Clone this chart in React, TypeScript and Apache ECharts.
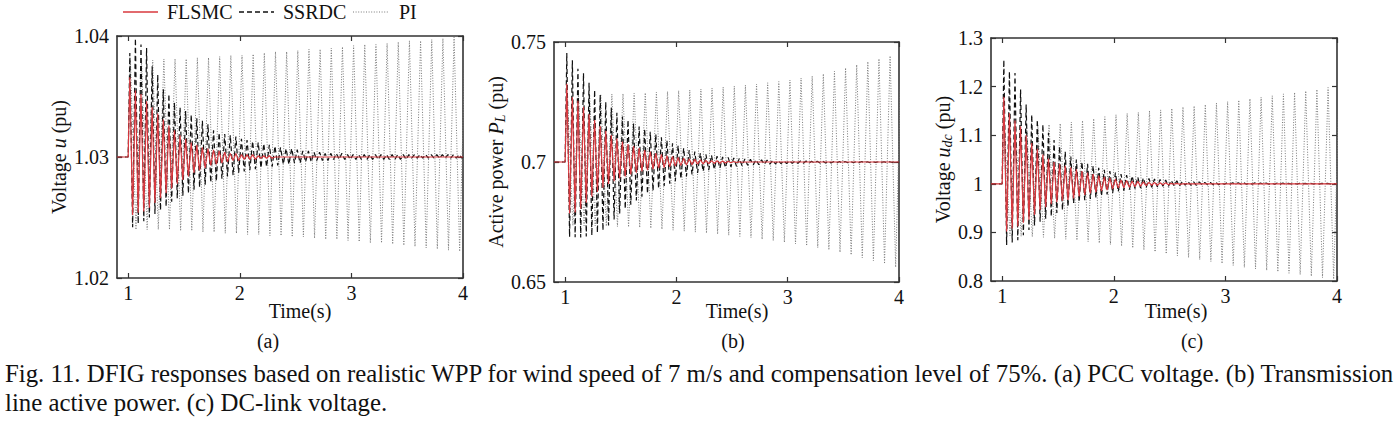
import React, { useEffect, useRef } from "react";
import * as echarts from "echarts";

// ---------- data (turning points of the oscillations) ----------
const X_MIN = 0.9;
const X_MAX = 4;
const EVENT_T = 1.0; // disturbance instant
const xTicks = [1, 2, 3, 4];
const legendNames = ["FLSMC", "SSRDC", "PI"];

// timing of extremes: FLSMC / SSRDC (fast mode), PI (slower mode)
const FAST_FIRST = 1.015;
const FAST_HALF = 0.025;
const PI_FIRST = 1.02;
const PI_HALF = 0.05;

// (a) PCC voltage (pu)
const baseA = 1.03;
const piA_hi = [1.0380, 1.0380, 1.0380, 1.0381, 1.0381, 1.0381, 1.0382, 1.0382, 1.0383, 1.0384, 1.0384, 1.0385, 1.0386, 1.0387, 1.0387, 1.0388, 1.0389, 1.0389, 1.0390, 1.0391, 1.0392, 1.0393, 1.0393, 1.0394, 1.0395, 1.0396, 1.0396, 1.0397, 1.0398, 1.0399, 1.0400];
const piA_lo = [1.0240, 1.0240, 1.0240, 1.0240, 1.0239, 1.0239, 1.0238, 1.0238, 1.0237, 1.0237, 1.0236, 1.0236, 1.0235, 1.0235, 1.0234, 1.0234, 1.0233, 1.0232, 1.0232, 1.0231, 1.0230, 1.0229, 1.0229, 1.0228, 1.0227, 1.0226, 1.0225, 1.0224, 1.0223, 1.0222];
const ssA_hi = [1.0386, 1.0398, 1.0393, 1.0390, 1.0375, 1.0368, 1.0356, 1.0352, 1.0345, 1.0341, 1.0338, 1.0335, 1.0332, 1.0330, 1.0327, 1.0322, 1.0320, 1.0319, 1.0318, 1.0317, 1.0315, 1.0314, 1.0313, 1.0312, 1.0311, 1.0310, 1.0309, 1.0308, 1.0307, 1.0307, 1.0306, 1.0305, 1.0305, 1.0304, 1.0304, 1.0303, 1.0303, 1.0303, 1.0303, 1.0302, 1.0302, 1.0302, 1.0302, 1.0302, 1.0302, 1.0302, 1.0302, 1.0302, 1.0302, 1.0302, 1.0302, 1.0302, 1.0302, 1.0302, 1.0302, 1.0302, 1.0302, 1.0302, 1.0302, 1.0302];
const ssA_lo = [1.0242, 1.0245, 1.0247, 1.0250, 1.0253, 1.0256, 1.0259, 1.0263, 1.0266, 1.0268, 1.0270, 1.0273, 1.0275, 1.0277, 1.0279, 1.0280, 1.0282, 1.0284, 1.0285, 1.0287, 1.0288, 1.0289, 1.0290, 1.0291, 1.0292, 1.0292, 1.0293, 1.0294, 1.0294, 1.0295, 1.0295, 1.0296, 1.0296, 1.0297, 1.0297, 1.0297, 1.0298, 1.0298, 1.0298, 1.0298, 1.0298, 1.0298, 1.0298, 1.0298, 1.0298, 1.0298, 1.0298, 1.0298, 1.0298, 1.0298, 1.0299, 1.0299, 1.0299, 1.0299, 1.0299, 1.0299, 1.0299, 1.0299, 1.0299, 1.0299];
const flA_hi = [1.0366, 1.0355, 1.0352, 1.0346, 1.0341, 1.0336, 1.0331, 1.0326, 1.0322, 1.0318, 1.0315, 1.0312, 1.0310, 1.0308, 1.0307, 1.0306, 1.0305, 1.0304, 1.0303, 1.0303, 1.0302, 1.0302, 1.0302, 1.0301, 1.0301, 1.0301];
const flA_lo = [1.0252, 1.0254, 1.0255, 1.0258, 1.0262, 1.0266, 1.0270, 1.0274, 1.0278, 1.0281, 1.0284, 1.0287, 1.0289, 1.0291, 1.0293, 1.0294, 1.0295, 1.0296, 1.0297, 1.0297, 1.0298, 1.0298, 1.0298, 1.0299, 1.0299, 1.0299];
const yTicksA = { min: 1.02, max: 1.04, interval: 0.01 };

// (b) transmission line active power (pu)
const baseB = 0.7;
const piB_hi = [0.7280, 0.7280, 0.7281, 0.7282, 0.7283, 0.7284, 0.7286, 0.7288, 0.7291, 0.7294, 0.7297, 0.7300, 0.7304, 0.7308, 0.7312, 0.7316, 0.7320, 0.7325, 0.7330, 0.7335, 0.7341, 0.7350, 0.7358, 0.7367, 0.7378, 0.7392, 0.7405, 0.7418, 0.7430, 0.7442, 0.7452];
const piB_lo = [0.6735, 0.6735, 0.6734, 0.6733, 0.6731, 0.6729, 0.6727, 0.6724, 0.6720, 0.6716, 0.6712, 0.6708, 0.6704, 0.6700, 0.6695, 0.6690, 0.6685, 0.6678, 0.6672, 0.6666, 0.6659, 0.6651, 0.6643, 0.6634, 0.6624, 0.6613, 0.6601, 0.6589, 0.6576, 0.6562];
const ssB_hi = [0.7454, 0.7424, 0.7389, 0.7370, 0.7330, 0.7300, 0.7280, 0.7250, 0.7225, 0.7205, 0.7190, 0.7175, 0.7160, 0.7148, 0.7137, 0.7126, 0.7115, 0.7103, 0.7090, 0.7078, 0.7068, 0.7058, 0.7050, 0.7043, 0.7037, 0.7032, 0.7028, 0.7024, 0.7021, 0.7019, 0.7017, 0.7015, 0.7013, 0.7011, 0.7010, 0.7009, 0.7008, 0.7007, 0.7006, 0.7005, 0.7005, 0.7004, 0.7004, 0.7004, 0.7003, 0.7003, 0.7003, 0.7003, 0.7002, 0.7002, 0.7002, 0.7002, 0.7002, 0.7002, 0.7001, 0.7001, 0.7001, 0.7001, 0.7001, 0.7001];
const ssB_lo = [0.6688, 0.6686, 0.6685, 0.6690, 0.6694, 0.6705, 0.6715, 0.6735, 0.6760, 0.6785, 0.6805, 0.6822, 0.6840, 0.6855, 0.6868, 0.6880, 0.6890, 0.6900, 0.6910, 0.6920, 0.6930, 0.6940, 0.6948, 0.6955, 0.6961, 0.6966, 0.6970, 0.6974, 0.6977, 0.6980, 0.6982, 0.6984, 0.6986, 0.6988, 0.6989, 0.6990, 0.6991, 0.6992, 0.6993, 0.6994, 0.6995, 0.6995, 0.6995, 0.6995, 0.6995, 0.6996, 0.6996, 0.6996, 0.6996, 0.6996, 0.6997, 0.6997, 0.6997, 0.6997, 0.6997, 0.6998, 0.6998, 0.6998, 0.6998, 0.6998];
const flB_hi = [0.7326, 0.7270, 0.7255, 0.7230, 0.7200, 0.7175, 0.7150, 0.7130, 0.7112, 0.7098, 0.7085, 0.7075, 0.7066, 0.7058, 0.7050, 0.7043, 0.7037, 0.7032, 0.7027, 0.7023, 0.7019, 0.7016, 0.7013, 0.7011, 0.7009, 0.7007, 0.7006, 0.7005, 0.7004, 0.7003, 0.7002, 0.7001];
const flB_lo = [0.6785, 0.6790, 0.6805, 0.6830, 0.6855, 0.6875, 0.6893, 0.6908, 0.6920, 0.6931, 0.6940, 0.6948, 0.6955, 0.6961, 0.6966, 0.6970, 0.6974, 0.6977, 0.6980, 0.6983, 0.6985, 0.6987, 0.6989, 0.6991, 0.6992, 0.6993, 0.6994, 0.6995, 0.6996, 0.6997, 0.6998, 0.6999];
const yTicksB = { min: 0.65, max: 0.75, interval: 0.05 };

// (c) DC-link voltage (pu)
const baseC = 1.0;
const piC_hi = [1.120, 1.120, 1.120, 1.121, 1.122, 1.124, 1.127, 1.130, 1.134, 1.138, 1.142, 1.145, 1.147, 1.150, 1.152, 1.155, 1.158, 1.160, 1.163, 1.166, 1.169, 1.172, 1.175, 1.178, 1.181, 1.185, 1.188, 1.191, 1.194, 1.198, 1.201];
const piC_lo = [0.893, 0.892, 0.891, 0.890, 0.888, 0.886, 0.884, 0.881, 0.878, 0.875, 0.872, 0.868, 0.864, 0.860, 0.856, 0.852, 0.848, 0.844, 0.840, 0.836, 0.832, 0.828, 0.825, 0.822, 0.819, 0.816, 0.813, 0.810, 0.807, 0.804];
const ssC_hi = [1.255, 1.231, 1.228, 1.194, 1.163, 1.142, 1.132, 1.122, 1.105, 1.090, 1.077, 1.066, 1.056, 1.050, 1.045, 1.041, 1.037, 1.033, 1.029, 1.026, 1.023, 1.020, 1.018, 1.016, 1.014, 1.012, 1.011, 1.010, 1.009, 1.008, 1.007, 1.006, 1.005, 1.005, 1.004, 1.004, 1.003, 1.003, 1.003, 1.002, 1.002, 1.002, 1.002, 1.002, 1.002, 1.002, 1.0015, 1.0015, 1.0015, 1.0015, 1.0015, 1.001, 1.001, 1.001, 1.001, 1.001, 1.001, 1.001, 1.001, 1.001];
const ssC_lo = [0.874, 0.879, 0.884, 0.894, 0.905, 0.914, 0.922, 0.928, 0.933, 0.940, 0.946, 0.953, 0.960, 0.963, 0.966, 0.969, 0.972, 0.975, 0.978, 0.981, 0.984, 0.986, 0.988, 0.990, 0.991, 0.992, 0.993, 0.994, 0.995, 0.995, 0.996, 0.996, 0.997, 0.997, 0.997, 0.998, 0.998, 0.998, 0.998, 0.999, 0.999, 0.999, 0.999, 0.999, 0.999, 0.999, 0.999, 0.999, 0.999, 0.999, 0.999, 0.9995, 0.9995, 0.9995, 0.9995, 0.9995, 0.9995, 0.9995, 0.9995, 0.9995];
const flC_hi = [1.179, 1.145, 1.130, 1.118, 1.100, 1.084, 1.072, 1.060, 1.052, 1.045, 1.041, 1.037, 1.034, 1.030, 1.026, 1.023, 1.020, 1.017, 1.014, 1.012, 1.010, 1.008, 1.007, 1.006, 1.005, 1.004, 1.003, 1.003, 1.002, 1.002, 1.001, 1.001];
const flC_lo = [0.902, 0.908, 0.912, 0.920, 0.926, 0.936, 0.946, 0.952, 0.958, 0.962, 0.965, 0.967, 0.970, 0.974, 0.977, 0.980, 0.983, 0.985, 0.987, 0.989, 0.991, 0.992, 0.993, 0.994, 0.995, 0.996, 0.997, 0.997, 0.998, 0.998, 0.999, 0.999];
const yTicksC = { min: 0.8, max: 1.3, interval: 0.1 };

// texts
const yNames = [
  "{n|Voltage }{i|u}{n| (pu)}",
  "{n|Active power }{i|P}{s|L}{n| (pu)}",
  "{n|Voltage }{i|u}{s|dc}{n| (pu)}",
];
const xName = "Time(s)";
const panelLabels = ["(a)", "(b)", "(c)"];
const captionLine1 =
  "Fig. 11. DFIG responses based on realistic WPP for wind speed of 7 m/s and compensation level of 75%. (a) PCC voltage. (b) Transmission";
const captionLine2 = "line active power. (c) DC-link voltage.";

// ---------- helpers ----------
function buildSeriesData(
  hi: number[],
  lo: number[],
  base: number,
  first: number,
  half: number,
  settles: boolean
) {
  const pts: number[][] = [
    [X_MIN, base],
    [EVENT_T, base],
  ];
  const n = Math.max(hi.length, lo.length);
  let lastT = EVENT_T;
  for (let j = 0; j < n; j++) {
    if (j < hi.length) {
      lastT = first + half * 2 * j;
      pts.push([lastT, hi[j]]);
    }
    if (j < lo.length) {
      lastT = first + half * (2 * j + 1);
      pts.push([lastT, lo[j]]);
    }
  }
  if (settles) {
    if (lastT + half < X_MAX) pts.push([lastT + half, base]);
    pts.push([X_MAX, base]);
  }
  return pts;
}

const FONT = "'Liberation Serif', 'Times New Roman', serif";
const TXT = "#111";
const AXIS_COLOR = "#333";
const RED = "#d8383e";
const BLACK = "#111";
const GREY = "#7a7a7a";
const PI_DASH = [1, 1.6];
const SS_DASH = [5, 3];

const grids = [
  { left: 117, top: 36, width: 346, height: 242 },
  { left: 554, top: 42, width: 345, height: 240 },
  { left: 991, top: 38, width: 346, height: 243 },
];
const nameGaps = [48, 40, 37];

export default function App() {
  const ref = useRef<HTMLDivElement>(null);

  useEffect(() => {
    if (!ref.current) return;
    const chart = echarts.init(ref.current, undefined, { renderer: "svg" });

    const panels = [
      { base: baseA, pi: [piA_hi, piA_lo], ss: [ssA_hi, ssA_lo], fl: [flA_hi, flA_lo], y: yTicksA },
      { base: baseB, pi: [piB_hi, piB_lo], ss: [ssB_hi, ssB_lo], fl: [flB_hi, flB_lo], y: yTicksB },
      { base: baseC, pi: [piC_hi, piC_lo], ss: [ssC_hi, ssC_lo], fl: [flC_hi, flC_lo], y: yTicksC },
    ];

    const xAxis: any[] = [];
    const yAxis: any[] = [];
    const series: any[] = [];
    const rich = {
      n: { fontFamily: FONT, fontSize: 20, color: TXT },
      i: { fontFamily: FONT, fontSize: 20, color: TXT, fontStyle: "italic" },
      s: { fontFamily: FONT, fontSize: 14, color: TXT, fontStyle: "italic", verticalAlign: "bottom", padding: [8, 0, 0, 0] },
    };

    panels.forEach((p, k) => {
      const tickInside = { show: true, inside: true, length: 5, lineStyle: { color: AXIS_COLOR, width: 1.2 } };
      const frameLine = { show: true, onZero: false, lineStyle: { color: AXIS_COLOR, width: 1.6 } };
      xAxis.push({
        type: "value",
        gridIndex: k,
        min: X_MIN,
        max: X_MAX,
        position: "bottom",
        axisLine: frameLine,
        axisTick: { ...tickInside, customValues: xTicks },
        axisLabel: { customValues: xTicks, fontFamily: FONT, fontSize: 20, color: TXT, margin: 5 },
        splitLine: { show: false },
      });
      xAxis.push({
        type: "value",
        gridIndex: k,
        min: X_MIN,
        max: X_MAX,
        position: "top",
        axisLine: frameLine,
        axisTick: { ...tickInside, customValues: xTicks },
        axisLabel: { show: false },
        splitLine: { show: false },
      });
      yAxis.push({
        type: "value",
        gridIndex: k,
        min: p.y.min,
        max: p.y.max,
        interval: p.y.interval,
        position: "left",
        name: yNames[k],
        nameLocation: "middle",
        nameRotate: 90,
        nameGap: nameGaps[k],
        nameTextStyle: { rich },
        axisLine: frameLine,
        axisTick: tickInside,
        axisLabel: {
          fontFamily: FONT,
          fontSize: 20,
          color: TXT,
          margin: 8,
          formatter: (v: number) => String(+v.toFixed(2)),
        },
        splitLine: { show: false },
      });
      yAxis.push({
        type: "value",
        gridIndex: k,
        min: p.y.min,
        max: p.y.max,
        interval: p.y.interval,
        position: "right",
        axisLine: frameLine,
        axisTick: tickInside,
        axisLabel: { show: false },
        splitLine: { show: false },
      });

      const xi = 2 * k;
      const yi = 2 * k;
      series.push({
        type: "line",
        name: "PI",
        xAxisIndex: xi,
        yAxisIndex: yi,
        data: buildSeriesData(p.pi[0], p.pi[1], p.base, PI_FIRST, PI_HALF, false),
        showSymbol: false,
        symbol: "none",
        color: GREY,
        lineStyle: { color: GREY, width: 1, type: PI_DASH },
        z: 1,
        silent: true,
      });
      series.push({
        type: "line",
        name: "SSRDC",
        xAxisIndex: xi,
        yAxisIndex: yi,
        data: buildSeriesData(p.ss[0], p.ss[1], p.base, FAST_FIRST, FAST_HALF, true),
        showSymbol: false,
        symbol: "none",
        color: BLACK,
        lineStyle: { color: BLACK, width: 1.2, type: SS_DASH },
        z: 2,
        silent: true,
      });
      series.push({
        type: "line",
        name: "FLSMC",
        xAxisIndex: xi,
        yAxisIndex: yi,
        data: buildSeriesData(p.fl[0], p.fl[1], p.base, FAST_FIRST, FAST_HALF, true),
        showSymbol: false,
        symbol: "none",
        color: RED,
        lineStyle: { color: RED, width: 1.2 },
        z: 3,
        silent: true,
      });
    });

    const graphic: any[] = [];
    // legend (drawn manually so that the icons are plain line samples)
    const legendItems = [
      { name: legendNames[0], x: 123, stroke: RED, dash: null as any, w: 1.3 },
      { name: legendNames[1], x: 239, stroke: BLACK, dash: SS_DASH, w: 1.3 },
      { name: legendNames[2], x: 353, stroke: GREY, dash: PI_DASH, w: 1 },
    ];
    legendItems.forEach((it) => {
      graphic.push({
        type: "line",
        shape: { x1: it.x, y1: 12, x2: it.x + 35, y2: 12 },
        style: { stroke: it.stroke, lineWidth: it.w, lineDash: it.dash || undefined },
        silent: true,
      });
      graphic.push({
        type: "text",
        x: it.x + (it.name === "PI" ? 46 : 44),
        y: 12,
        style: { text: it.name, fontFamily: FONT, fontSize: 20, fill: TXT, align: "left", verticalAlign: "middle" },
      });
    });

    const xNamePos = [300, 737, 1176];
    const panelLabelPos = [268, 733, 1192];
    xNamePos.forEach((x) =>
      graphic.push({
        type: "text",
        x,
        y: 311,
        style: { text: xName, fontFamily: FONT, fontSize: 20, fill: TXT, align: "center", verticalAlign: "middle" },
      })
    );
    panelLabelPos.forEach((x, i) =>
      graphic.push({
        type: "text",
        x,
        y: 341,
        style: { text: panelLabels[i], fontFamily: FONT, fontSize: 20, fill: TXT, align: "center", verticalAlign: "middle" },
      })
    );
    graphic.push({
      type: "text",
      x: 5,
      y: 373,
      style: { text: captionLine1, fontFamily: FONT, fontSize: 24.8, fill: TXT, align: "left", verticalAlign: "middle" },
    });
    graphic.push({
      type: "text",
      x: 5,
      y: 402,
      style: { text: captionLine2, fontFamily: FONT, fontSize: 24.8, fill: TXT, align: "left", verticalAlign: "middle" },
    });

    chart.setOption({
      animation: false,
      backgroundColor: "#fff",
      grid: grids.map((g) => ({ ...g, containLabel: false })),
      xAxis,
      yAxis,
      series,
      graphic,
    });

    return () => chart.dispose();
  }, []);

  return (
    <div
      ref={ref}
      style={{ position: "absolute", left: 0, top: 0, width: 1399, height: 421, background: "#fff" }}
    />
  );
}
